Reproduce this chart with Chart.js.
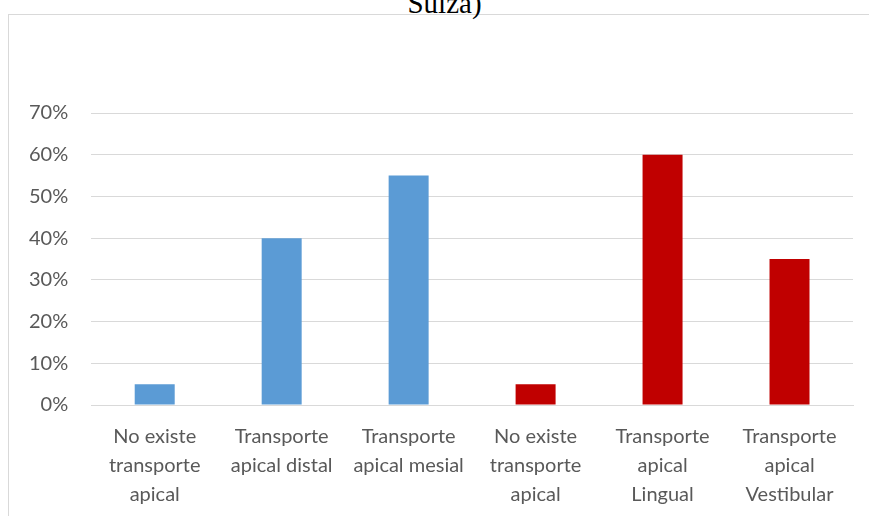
<!DOCTYPE html>
<html>
<head>
<meta charset="utf-8">
<script src="https://cdn.jsdelivr.net/npm/chart.js@4"></script>
<style>
  html, body { margin: 0; padding: 0; background: #fff; overflow: hidden; }
  body { width: 869px; height: 516px; position: relative; }
  #frame { position: absolute; left: 8px; top: 14px; width: 880px; height: 520px; border: 1.5px solid #d9d9d9; box-sizing: border-box; }
  #title { position: absolute; left: 0; width: 889px; top: -13px; text-align: center; font-family: "Liberation Serif", "Times New Roman", serif; font-size: 29px; color: #000; white-space: nowrap; }
  #wrap { position: absolute; left: 0; top: 0; width: 869px; height: 516px; }
</style>
</head>
<body>
<div id="frame"></div>
<div id="title">Suiza)</div>
<div id="wrap"><canvas id="c"></canvas></div>
<script>
const categories = [
  ["No existe", "transporte", "apical"],
  ["Transporte", "apical distal"],
  ["Transporte", "apical mesial"],
  ["No existe", "transporte", "apical"],
  ["Transporte", "apical", "Lingual"],
  ["Transporte", "apical", "Vestibular"]
];
const values = [0.05, 0.40, 0.55, 0.05, 0.60, 0.35];
const barColors = ["#5B9BD5", "#5B9BD5", "#5B9BD5", "#C00000", "#C00000", "#C00000"];
const yTicks = [0, 0.1, 0.2, 0.3, 0.4, 0.5, 0.6, 0.7];

new Chart(document.getElementById("c"), {
  type: "bar",
  data: {
    labels: categories,
    datasets: [{
      data: values,
      backgroundColor: barColors,
      borderWidth: 0,
      barPercentage: 0.315,
      categoryPercentage: 1.0
    }]
  },
  options: {
    responsive: true,
    maintainAspectRatio: false,
    animation: false,
    devicePixelRatio: 1,
    layout: { padding: { left: 6, right: 16, top: 113, bottom: -10 } },
    plugins: { legend: { display: false }, title: { display: false }, tooltip: { enabled: false } },
    scales: {
      x: {
        grid: { display: false, drawTicks: false },
        border: { display: true, color: "#d9d9d9", width: 1 },
        ticks: {
          color: "#595959",
          font: { family: "Lato, 'Open Sans', sans-serif", size: 20, lineHeight: 1.45 },
          padding: 17,
          maxRotation: 0,
          autoSkip: false
        }
      },
      y: {
        min: 0,
        max: 0.7,
        afterBuildTicks: (axis) => { axis.ticks = yTicks.map(v => ({ value: v })); },
        grid: { color: "#d9d9d9", lineWidth: 1, drawTicks: false },
        border: { display: false },
        ticks: {
          color: "#595959",
          font: { family: "Lato, 'Open Sans', sans-serif", size: 20 },
          padding: 23,
          callback: (v) => Math.round(v * 100) + "%"
        }
      }
    }
  }
});
</script>
</body>
</html>
